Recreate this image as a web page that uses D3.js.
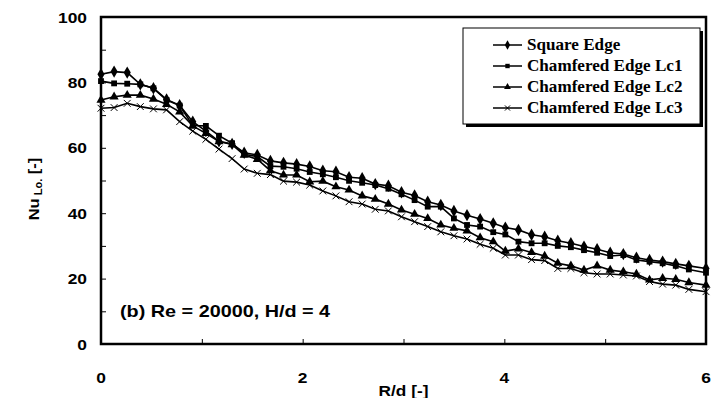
<!DOCTYPE html>
<html>
<head>
<script src="https://cdn.jsdelivr.net/npm/d3@7"></script>
<style>
  body { margin: 0; background: #fff; }
  text { font-family: Arial, "Liberation Sans", sans-serif; font-weight: bold; fill: #000; }
</style>
</head>
<body>
<div id="chart"></div>
<script>
// R/d positions of the measured points
var rd = [0, 0.13, 0.26, 0.39, 0.52, 0.65, 0.78, 0.91, 1.04, 1.17, 1.30, 1.42,
  1.55, 1.68, 1.81, 1.94, 2.07, 2.20, 2.33, 2.46, 2.59, 2.72, 2.85, 2.98,
  3.11, 3.24, 3.37, 3.50, 3.63, 3.76, 3.89, 4.01, 4.14, 4.27, 4.40, 4.53,
  4.66, 4.79, 4.92, 5.05, 5.18, 5.31, 5.44, 5.57, 5.70, 5.83, 6.00];

var squareEdge = [82.5, 83.3, 83.0, 79.4, 78.2, 74.8, 73.0, 68.0, 65.1, 62.0, 61.2, 58.5,
  57.8, 56.0, 55.4, 55.0, 54.3, 53.0, 52.7, 51.0, 50.7, 48.9, 48.4, 46.4,
  45.4, 43.5, 42.5, 40.7, 39.4, 38.2, 36.9, 35.6, 34.9, 33.4, 32.8, 31.6,
  30.8, 29.8, 29.0, 27.9, 27.5, 26.4, 25.7, 25.2, 24.5, 23.9, 23.1];

var lc1 = [80.4, 79.7, 79.6, 79.4, 78.2, 74.6, 72.9, 66.8, 66.7, 63.7, 61.4, 58.0,
  57.3, 54.4, 54.2, 53.6, 52.6, 51.9, 51.0, 49.9, 49.3, 48.6, 47.5, 45.8,
  44.0, 42.0, 42.0, 38.4, 36.4, 35.9, 34.2, 33.5, 31.3, 30.8, 30.8, 30.0,
  29.6, 28.7, 27.9, 26.9, 27.2, 25.7, 25.2, 24.7, 23.9, 22.8, 21.8];

var lc2 = [74.6, 75.6, 76.1, 76.1, 74.9, 73.3, 71.0, 66.7, 64.4, 61.9, 61.0, 57.8,
  56.5, 53.0, 51.7, 51.7, 49.6, 49.8, 48.1, 47.1, 45.3, 44.3, 42.8, 41.0,
  39.7, 38.4, 36.4, 35.4, 34.6, 32.5, 31.3, 28.4, 29.1, 28.0, 26.9, 24.7,
  23.9, 22.6, 23.9, 22.6, 22.1, 21.4, 19.6, 20.1, 19.8, 18.8, 18.0];

var lc3 = [72.1, 72.3, 73.6, 72.6, 71.9, 71.6, 68.0, 65.1, 62.6, 59.6, 56.7, 53.5,
  52.2, 51.8, 49.8, 49.5, 48.6, 46.8, 45.3, 43.5, 42.8, 41.2, 40.7, 38.9,
  37.4, 35.9, 34.3, 33.1, 32.1, 30.5, 29.3, 27.2, 27.2, 25.8, 25.5, 23.1,
  23.1, 21.8, 21.4, 21.4, 21.1, 20.8, 19.1, 18.3, 18.0, 16.7, 16.0];

var seriesNames = ["Square Edge", "Chamfered Edge Lc1", "Chamfered Edge Lc2", "Chamfered Edge Lc3"];
var seriesValues = [squareEdge, lc1, lc2, lc3];
var xTickLabels = [0, 2, 4, 6];
var yTickLabels = [0, 20, 40, 60, 80, 100];

var width = 720, height = 398;
var margin = {left: 101, right: 14, top: 17, bottom: 54};

var svg = d3.select("#chart").append("svg")
    .attr("width", width)
    .attr("height", height);

var x = d3.scaleLinear().domain([0, 6]).range([margin.left, width - margin.right]);
var y = d3.scaleLinear().domain([0, 100]).range([height - margin.bottom, margin.top]);

// text in the original is a bit wider than plain Arial, so stretch it horizontally
function label(parent, tx, ty, sx, size, anchor, str) {
  return parent.append("text")
    .attr("transform", "translate(" + tx + "," + ty + ") scale(" + sx + ",1)")
    .attr("text-anchor", anchor)
    .style("font-size", size + "px")
    .text(str);
}

// inward ticks
var xAxis = d3.axisTop(x).tickValues(d3.range(0, 7, 1)).tickSize(5).tickFormat("");
var yAxis = d3.axisRight(y).tickValues(d3.range(0, 101, 10)).tickSize(5).tickFormat("");

svg.append("g").attr("transform", "translate(0," + y(0) + ")").call(xAxis)
  .call(function(g) { g.select(".domain").remove(); g.selectAll("line").attr("stroke-width", 1); });
svg.append("g").attr("transform", "translate(" + x(0) + ",0)").call(yAxis)
  .call(function(g) { g.select(".domain").remove(); g.selectAll("line").attr("stroke-width", 1); });

// tick labels
xTickLabels.forEach(function(d) {
  label(svg, x(d), 383, 1.12, 15.5, "middle", d);
});
yTickLabels.forEach(function(d) {
  label(svg, 87, y(d) + 5.5, 1.12, 15.5, "end", d);
});

// axis titles
label(svg, (x(0) + x(6)) / 2, 396, 1.15, 15, "middle", "R/d [-]");

var yt = svg.append("text")
  .attr("transform", "translate(39,189) rotate(-90) scale(1.1,1)")
  .attr("text-anchor", "middle")
  .style("font-size", "15px");
yt.append("tspan").text("Nu");
yt.append("tspan").attr("dy", 3).style("font-size", "10px").text(" Lo.");
yt.append("tspan").attr("dy", -3).text(" [-]");

// series
var line = d3.line()
  .x(function(d, i) { return x(rd[i]); })
  .y(function(d) { return y(d); });

function drawMarker(g, k, cx, cy, scale) {
  if (k === 3) {
    var s = 3.4 * scale;
    g.append("path")
      .attr("d", "M" + (cx - s) + "," + (cy - s) + "L" + (cx + s) + "," + (cy + s) +
                 "M" + (cx - s) + "," + (cy + s) + "L" + (cx + s) + "," + (cy - s))
      .attr("stroke", "#000").attr("stroke-width", 1).attr("fill", "none");
  } else {
    g.append("path")
      .attr("d", d3.symbol().type([d3.symbolDiamond, d3.symbolSquare, d3.symbolTriangle][k])
        .size([44, 34, 36][k] * scale * scale)())
      .attr("transform", "translate(" + cx + "," + cy + ")")
      .attr("fill", "#000");
  }
}

seriesValues.forEach(function(vals, k) {
  var g = svg.append("g");
  g.append("path")
    .datum(vals)
    .attr("d", line)
    .attr("fill", "none")
    .attr("stroke", "#000")
    .attr("stroke-width", 1.6);
  vals.forEach(function(v, i) {
    drawMarker(g, k, x(rd[i]), y(v), 1);
  });
});

// frame
svg.append("rect")
  .attr("x", x(0)).attr("y", y(100))
  .attr("width", x(6) - x(0)).attr("height", y(0) - y(100))
  .attr("fill", "none").attr("stroke", "#000").attr("stroke-width", 2.5);

// annotation
label(svg, 120, 317, 1.2, 16.5, "start", "(b) Re = 20000, H/d = 4");

// legend
var lg = svg.append("g");
lg.append("rect").attr("x", 466).attr("y", 31).attr("width", 237).attr("height", 96).attr("fill", "#000");
lg.append("rect").attr("x", 463).attr("y", 28).attr("width", 237).attr("height", 96)
  .attr("fill", "#fff").attr("stroke", "#000").attr("stroke-width", 1);

seriesNames.forEach(function(name, k) {
  var cy = 45 + k * 21;
  lg.append("line").attr("x1", 493).attr("x2", 522).attr("y1", cy).attr("y2", cy)
    .attr("stroke", "#000").attr("stroke-width", 1.5);
  drawMarker(lg, k, 507.5, cy, 0.75);
  label(lg, 527, cy + 5, 1.07, 16, "start", name)
    .style("font-family", "'Liberation Serif', 'Times New Roman', serif");
});
</script>
</body>
</html>
